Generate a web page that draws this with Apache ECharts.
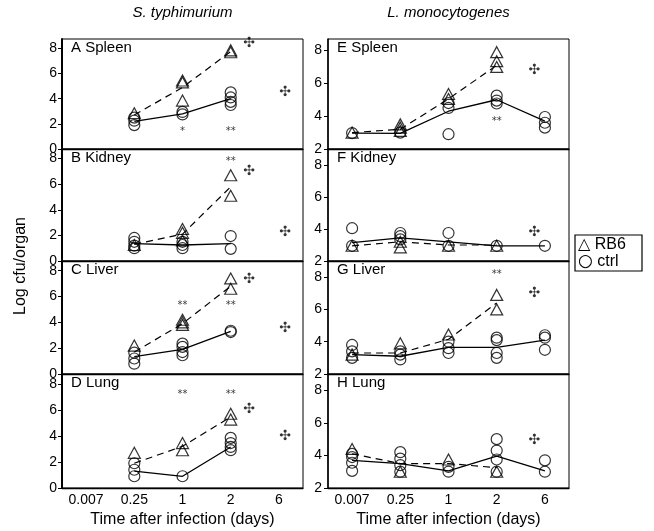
<!DOCTYPE html>
<html>
<head>
<meta charset="utf-8">
<script src="https://cdn.jsdelivr.net/npm/echarts@6/dist/echarts.min.js"></script>
<style>
html,body{margin:0;padding:0;background:#fff;}
#chart{width:654px;height:531px;}
</style>
</head>
<body>
<div id="chart"></div>
<script>
// ---------- DATA ----------
const categories = ['0.007', '0.25', '1', '2', '6'];
const columnTitles = ['S. typhimurium', 'L. monocytogenes'];
const panelNames = ['A Spleen', 'B Kidney', 'C Liver', 'D Lung', 'E Spleen', 'F Kidney', 'G Liver', 'H Lung'];
const yTicksLeft = [0, 2, 4, 6, 8];
const yTicksRight = [2, 4, 6, 8];
const legendSymbols = ['\u25B3', '\u25CB'];
const legendNames = ['RB6', 'ctrl'];
const xAxisTitle = 'Time after infection (days)';
const yAxisTitle = 'Log cfu/organ';

// points: [categoryIndex, log cfu]
const rb6PtsA = [[1,2.85],[2,5.45],[2,5.3],[2,3.85],[3,7.85],[3,7.7]];
const ctrlPtsA = [[1,2.5],[1,2.25],[1,1.9],[2,2.95],[2,2.75],[3,4.5],[3,4.1],[3,3.75],[3,3.5]];
const rb6MeanA = [null, 2.7, 4.9, 7.75, null];
const ctrlMeanA = [null, 2.2, 2.8, 4.0, null];
const marksA = [[2,1.4,'*'],[3,1.4,'**'],[3.38,8.4,'\u2723'],[4.13,4.5,'\u2723']];

const rb6PtsB = [[1,1.25],[2,2.5],[2,2.2],[2,1.6],[3,6.7],[3,5.1]];
const ctrlPtsB = [[1,1.8],[1,1.5],[1,1.2],[1,1.0],[2,1.5],[2,1.25],[2,1.0],[3,1.95],[3,0.95]];
const rb6MeanB = [null, 1.3, 2.1, 5.8, null];
const ctrlMeanB = [null, 1.35, 1.25, 1.35, null];
const marksB = [[3,7.8,'**'],[3.38,7.0,'\u2723'],[4.13,2.2,'\u2723']];

const rb6PtsC = [[1,2.2],[2,4.2],[2,4.0],[2,3.8],[3,7.4],[3,6.6]];
const ctrlPtsC = [[1,1.65],[1,1.2],[1,0.8],[2,2.35],[2,2.1],[2,1.7],[2,1.45],[3,3.35],[3,3.25]];
const rb6MeanC = [null, 1.7, 3.9, 6.8, null];
const ctrlMeanC = [null, 1.35, 1.9, 3.3, null];
const marksC = [[2,5.3,'**'],[3,5.35,'**'],[3.38,7.35,'\u2723'],[4.13,3.5,'\u2723']];

const rb6PtsD = [[1,2.7],[2,3.45],[2,2.9],[3,5.7],[3,5.25]];
const ctrlPtsD = [[1,1.9],[1,1.4],[1,0.9],[2,0.9],[3,3.85],[3,3.45],[3,3.15],[3,2.9]];
const rb6MeanD = [null, 1.9, 3.2, 5.45, null];
const ctrlMeanD = [null, 1.3, 0.9, 3.15, null];
const marksD = [[2,7.2,'**'],[3,7.2,'**'],[3.38,6.05,'\u2723'],[4.13,4.0,'\u2723']];

const rb6PtsE = [[0,3.0],[1,3.5],[1,3.3],[1,3.1],[2,5.35],[2,5.05],[3,7.9],[3,7.35],[3,7.0]];
const ctrlPtsE = [[0,2.97],[1,3.0],[2,4.8],[2,4.5],[2,2.9],[3,5.25],[3,4.95],[3,4.77],[4,3.95],[4,3.6],[4,3.3]];
const rb6MeanE = [3.0, 3.2, 5.05, 7.1, null];
const ctrlMeanE = [2.97, 2.95, 4.3, 5.0, 3.7];
const marksE = [[3,3.7,'**'],[3.78,6.8,'\u2723']];

const rb6PtsF = [[0,2.95],[1,2.85],[1,3.2],[2,2.95],[3,2.95]];
const ctrlPtsF = [[0,4.05],[0,2.95],[1,3.75],[1,3.55],[1,3.35],[2,3.75],[2,2.95],[3,2.95],[4,2.95]];
const rb6MeanF = [2.95, 3.2, 3.0, 3.0, null];
const ctrlMeanF = [3.15, 3.45, 3.2, 2.95, 2.95];
const marksF = [[3.78,3.8,'\u2723']];

const rb6PtsG = [[0,3.2],[1,3.9],[2,4.45],[3,6.9],[3,6.0]];
const ctrlPtsG = [[0,3.8],[0,3.4],[0,3.0],[1,3.4],[1,3.2],[1,2.9],[2,4.0],[2,3.6],[2,3.3],[3,4.25],[3,4.1],[3,3.3],[3,3.0],[4,4.4],[4,4.25],[4,3.5]];
const rb6MeanG = [3.3, 3.3, 4.15, 6.4, null];
const ctrlMeanG = [3.2, 3.1, 3.65, 3.65, 4.1];
const marksG = [[3,8.17,'**'],[3.78,7.0,'\u2723']];

const rb6PtsH = [[0,4.4],[1,3.0],[2,3.75],[3,3.0]];
const ctrlPtsH = [[0,4.1],[0,3.9],[0,3.55],[0,3.05],[1,4.2],[1,3.8],[1,3.4],[1,3.0],[2,3.3],[2,3.0],[3,5.0],[3,4.3],[3,3.75],[3,3.0],[4,3.7],[4,3.0]];
const rb6MeanH = [4.1, 3.5, 3.5, 3.25, null];
const ctrlMeanH = [3.7, 3.5, 3.05, 3.95, 3.05];
const marksH = [[3.78,4.9,'\u2723']];

const panels = [
  {rb6: rb6PtsA, ctrl: ctrlPtsA, rb6Mean: rb6MeanA, ctrlMean: ctrlMeanA, marks: marksA},
  {rb6: rb6PtsB, ctrl: ctrlPtsB, rb6Mean: rb6MeanB, ctrlMean: ctrlMeanB, marks: marksB},
  {rb6: rb6PtsC, ctrl: ctrlPtsC, rb6Mean: rb6MeanC, ctrlMean: ctrlMeanC, marks: marksC},
  {rb6: rb6PtsD, ctrl: ctrlPtsD, rb6Mean: rb6MeanD, ctrlMean: ctrlMeanD, marks: marksD},
  {rb6: rb6PtsE, ctrl: ctrlPtsE, rb6Mean: rb6MeanE, ctrlMean: ctrlMeanE, marks: marksE},
  {rb6: rb6PtsF, ctrl: ctrlPtsF, rb6Mean: rb6MeanF, ctrlMean: ctrlMeanF, marks: marksF},
  {rb6: rb6PtsG, ctrl: ctrlPtsG, rb6Mean: rb6MeanG, ctrlMean: ctrlMeanG, marks: marksG},
  {rb6: rb6PtsH, ctrl: ctrlPtsH, rb6Mean: rb6MeanH, ctrlMean: ctrlMeanH, marks: marksH}
];

// ---------- LAYOUT ----------
const FONT = '"Liberation Sans", Arial, "DejaVu Sans", sans-serif';
const colLeft = [62, 328];
const colWidth = 241;
const rowTop = [39, 149, 261, 374];
const rowHeight = [110, 112, 113, 114];
const yMaxLeft = 8.75;
const yMaxRight = [8.7, 9, 9, 9];

const grids = [], xAxes = [], yAxes = [], series = [], graphics = [];

panels.forEach((p, i) => {
  const col = i < 4 ? 0 : 1;
  const row = i % 4;
  grids.push({left: colLeft[col], top: rowTop[row], width: colWidth, height: rowHeight[row],
    show: true, borderColor: '#000', borderWidth: 1, backgroundColor: 'transparent'});
  const bottom = row === 3;
  xAxes.push({
    type: 'value', gridIndex: i, min: -0.5, max: 4.5,
    axisLine: {show: true, onZero: false, lineStyle: {color: '#000', width: 1.3}},
    axisTick: {show: false},
    splitLine: {show: false},
    axisLabel: {show: bottom, customValues: [0,1,2,3,4], formatter: v => categories[Math.round(v)],
      color: '#000', fontSize: 14, fontFamily: FONT, margin: 5},
    name: bottom ? xAxisTitle : '', nameLocation: 'middle', nameGap: 24,
    nameTextStyle: {color: '#000', fontSize: 16, fontFamily: FONT}
  });
  const ticks = col === 0 ? yTicksLeft : yTicksRight;
  yAxes.push({
    type: 'value', gridIndex: i,
    min: col === 0 ? 0 : 2, max: col === 0 ? yMaxLeft : yMaxRight[row],
    axisLine: {show: true, onZero: false, lineStyle: {color: '#000', width: col === 0 ? 2 : 1.5}},
    axisTick: {show: true, customValues: ticks, length: 4, lineStyle: {color: '#000'}},
    axisLabel: {customValues: ticks, color: '#000', fontSize: 14, fontFamily: FONT, margin: col === 0 ? 5 : 6},
    splitLine: {show: false}
  });
  const lineData = arr => arr.map((v, k) => v === null ? null : [k, v]).filter(d => d);
  series.push({type: 'line', xAxisIndex: i, yAxisIndex: i, data: lineData(p.ctrlMean),
    symbol: 'none', silent: true, z: 2, lineStyle: {color: '#000', width: 1.3}});
  series.push({type: 'line', xAxisIndex: i, yAxisIndex: i, data: lineData(p.rb6Mean),
    symbol: 'none', silent: true, z: 2, lineStyle: {color: '#000', width: 1.2, type: [7, 5]}});
  series.push({type: 'scatter', xAxisIndex: i, yAxisIndex: i, data: p.ctrl, symbol: 'circle',
    symbolSize: 11, z: 3, itemStyle: {color: 'rgba(255,255,255,0)', borderColor: '#000', borderWidth: 1.2}});
  series.push({type: 'scatter', xAxisIndex: i, yAxisIndex: i, data: p.rb6, symbol: 'triangle',
    symbolSize: [12, 11], z: 3, itemStyle: {color: 'rgba(255,255,255,0)', borderColor: '#000', borderWidth: 1.2}});
  series.push({type: 'scatter', xAxisIndex: i, yAxisIndex: i, symbolSize: 1, z: 4,
    itemStyle: {color: 'rgba(0,0,0,0)'},
    data: p.marks.map(m => ({value: [m[0], m[1]], name: m[2],
      label: {fontSize: m[2] === '\u2723' ? 14 : 10, fontWeight: m[2] === '\u2723' ? 'bold' : 'normal'}})),
    label: {show: true, position: 'inside', formatter: '{b}', color: '#000', fontFamily: '"DejaVu Sans", sans-serif'}});
  graphics.push({type: 'text', left: colLeft[col] + 9, top: rowTop[row] + 1, z: 10,
    style: {text: panelNames[i], fill: '#000', font: '15px ' + FONT}});
});

// column titles
columnTitles.forEach((t, c) => {
  graphics.push({type: 'text', x: colLeft[c] + colWidth / 2, y: 13, z: 10,
    style: {text: t, fill: '#000', font: 'italic 15px ' + FONT, textAlign: 'center', textVerticalAlign: 'middle'}});
});
// y axis title
graphics.push({type: 'text', x: 21, y: 266, rotation: Math.PI / 2, z: 10,
  style: {text: yAxisTitle, fill: '#000', font: '16px ' + FONT, textAlign: 'center', textVerticalAlign: 'middle'}});
// legend box
graphics.push({type: 'rect', shape: {x: 575, y: 235, width: 67, height: 36}, z: 10,
  style: {fill: '#fff', stroke: '#000', lineWidth: 1.2}});
legendNames.forEach((t, k) => {
  graphics.push({type: 'text', x: 578, y: 245 + k * 17, z: 11,
    style: {text: '{s|' + legendSymbols[k] + '} ' + t, fill: '#000', font: '16px ' + FONT, textVerticalAlign: 'middle',
      rich: {s: {fontSize: k === 0 ? 16 : 17, fontFamily: '"DejaVu Sans", sans-serif', fill: '#000'}}}});
});

const chart = echarts.init(document.getElementById('chart'), null, {renderer: 'canvas'});
chart.setOption({
  animation: false,
  backgroundColor: '#fff',
  grid: grids, xAxis: xAxes, yAxis: yAxes, series: series, graphic: graphics
});
</script>
</body>
</html>
